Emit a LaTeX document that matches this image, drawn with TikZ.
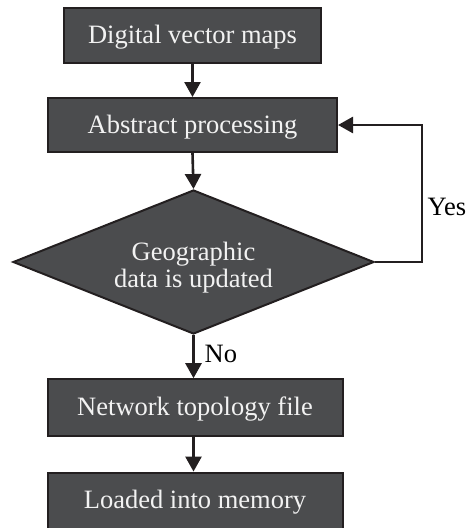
\documentclass[tikz,border=0pt]{standalone}
\usepackage{fontspec}
\setmainfont{Liberation Serif}
\usetikzlibrary{shapes.geometric,arrows.meta}
\definecolor{boxfill}{HTML}{4B4C4E}
\definecolor{boxtext}{HTML}{F2F2F2}
\definecolor{linecol}{HTML}{231F20}
\tikzset{
  stepbox/.style={draw=linecol, line width=2pt, fill=boxfill, text=boxtext,
    inner sep=0pt, font=\fontsize{26.5}{27}\selectfont, text height=16pt, text depth=0pt},
  decbox/.style={diamond, draw=linecol, line width=2pt, fill=boxfill, inner sep=0pt, aspect=2.5},
  dectxt/.style={text=boxtext, align=center, inner sep=0pt, font=\fontsize{26.5}{27}\selectfont},
  lab/.style={text=black, inner sep=0pt, font=\fontsize{26.5}{27}\selectfont},
  arr/.style={draw=linecol, line width=2.6pt, -{Triangle[length=15pt,width=16pt]}}
}
\begin{document}
\begin{tikzpicture}[x=1pt,y=-1pt]
\useasboundingbox (0,0) rectangle (466,528);
\node[stepbox, minimum width=257pt, minimum height=55pt] (b1) at (192.5,35.5) {Digital vector maps};
\node[stepbox, minimum width=289pt, minimum height=54pt] (b2) at (192.5,125) {Abstract processing};
\node[decbox, minimum width=361pt, minimum height=144pt] (dec) at (193.5,262) {};
\node[dectxt] (dect) at (193.5,267.4) {Geographic\\data is updated};
\node[stepbox, minimum width=295pt, minimum height=57pt] (b3) at (195,407.7) {Network topology file};
\node[stepbox, minimum width=295pt, minimum height=56.5pt] (b4) at (195,500.8) {Loaded into memory};
\draw[arr] (b1.south) -- (b2.north);
\draw[arr] (b2.south) -- (dec.north);
\coordinate (yc) at (422,262);
\draw[arr] (dec.east) -- (yc) |- (b2.east);
\node[lab, anchor=base west] (yes) at (427.5,215) {Yes};
\draw[arr] (dec.south) -- (dec.south |- b3.north);
\node[lab, anchor=base west] (no) at (204.5,362) {No};
\draw[arr] (b3.south -| dec.south) -- (b4.north -| dec.south);
\end{tikzpicture}
\end{document}
